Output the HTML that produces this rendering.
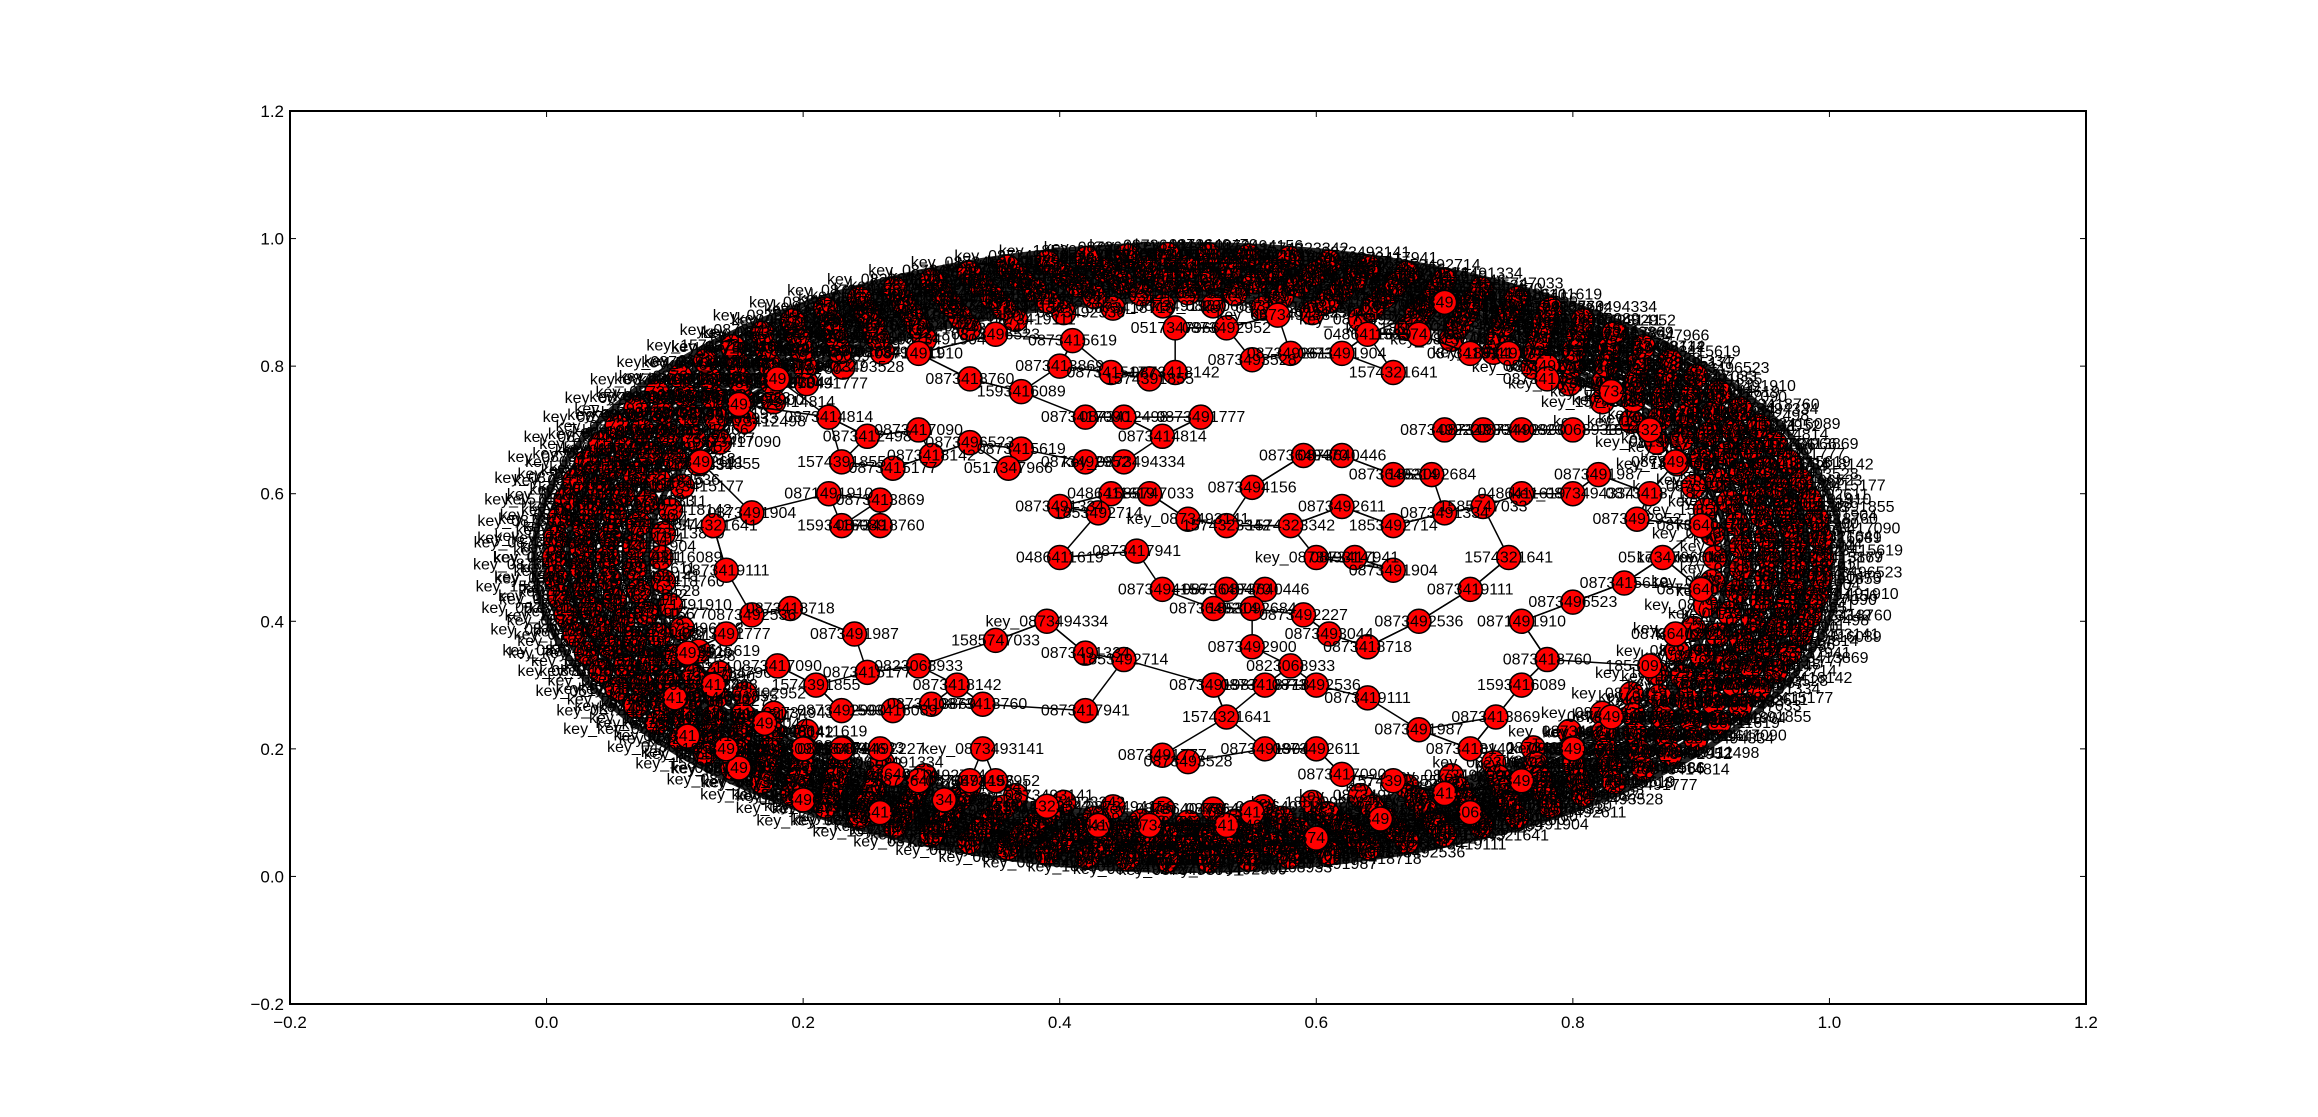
<!DOCTYPE html>
<html><head><meta charset="utf-8"><style>
body{margin:0;background:#fff}
svg{display:block;font-family:"Liberation Sans","DejaVu Sans",sans-serif}
</style></head><body>
<svg id="chart" width="2318" height="1117" viewBox="0 0 2318 1117">
<rect width="2318" height="1117" fill="#fff"/>
<g id="plot"></g>
<rect x="290" y="111" width="1796" height="893" fill="none" stroke="#000" stroke-width="2"/>
<g id="axes"></g>
</svg>
<script>
const xTicks=[-0.2,0,0.2,0.4,0.6,0.8,1.0,1.2];
const yTicks=[-0.2,0,0.2,0.4,0.6,0.8,1.0,1.2];
const nodeX=[0.39,0.40,0.35,0.42,0.45,0.42,0.34,0.39,0.33,0.29,0.23,0.27,0.2,0.26,0.17,0.23,0.29,0.24,0.19,0.16,0.14,0.13,0.16,0.12,0.15,0.18,0.22,0.25,0.29,0.23,0.27,0.3,0.26,0.23,0.26,0.22,0.33,0.37,0.36,0.42,0.45,0.44,0.47,0.4,0.43,0.46,0.5,0.53,0.48,0.53,0.56,0.52,0.55,0.59,0.61,0.55,0.58,0.52,0.56,0.6,0.64,0.53,0.56,0.6,0.5,0.48,0.55,0.53,0.62,0.66,0.7,0.72,0.74,0.76,0.78,0.76,0.8,0.84,0.87,0.85,0.8,0.76,0.73,0.7,0.66,0.63,0.6,0.58,0.55,0.59,0.62,0.66,0.69,0.7,0.73,0.76,0.8,0.82,0.86,0.78,0.72,0.66,0.62,0.58,0.55,0.51,0.48,0.45,0.42,0.47,0.44,0.49,0.4,0.37,0.33,0.29,0.35,0.41,0.49,0.53,0.57,0.64,0.68,0.7,0.75,0.78,0.83,0.86,0.88,0.9,0.9,0.88,0.86,0.83,0.8,0.76,0.72,0.68,0.64,0.68,0.72,0.75,0.66,0.62,0.11,0.14,0.1,0.13,0.18,0.21,0.25,0.32,0.3,0.27,0.34,0.15,0.2,0.26,0.31,0.35,0.47,0.43,0.6,0.65,0.14,0.11];
const nodeY=[0.40,0.50,0.37,0.35,0.34,0.26,0.20,0.11,0.15,0.15,0.20,0.16,0.2,0.2,0.24,0.26,0.33,0.38,0.42,0.41,0.48,0.55,0.57,0.65,0.74,0.78,0.72,0.69,0.70,0.65,0.64,0.66,0.59,0.55,0.55,0.6,0.68,0.67,0.64,0.65,0.65,0.60,0.60,0.58,0.57,0.51,0.56,0.55,0.45,0.45,0.45,0.42,0.42,0.41,0.38,0.36,0.33,0.3,0.3,0.3,0.28,0.25,0.2,0.2,0.18,0.19,0.1,0.08,0.16,0.15,0.13,0.2,0.25,0.3,0.34,0.4,0.43,0.46,0.5,0.56,0.6,0.6,0.58,0.57,0.55,0.5,0.5,0.55,0.61,0.66,0.66,0.63,0.63,0.70,0.70,0.7,0.7,0.63,0.6,0.8,0.82,0.79,0.82,0.82,0.81,0.72,0.69,0.72,0.72,0.78,0.79,0.79,0.8,0.76,0.78,0.82,0.85,0.84,0.86,0.86,0.88,0.85,0.85,0.9,0.82,0.78,0.76,0.7,0.65,0.55,0.45,0.38,0.33,0.25,0.2,0.15,0.1,0.23,0.36,0.4,0.45,0.5,0.48,0.58,0.35,0.38,0.28,0.3,0.33,0.3,0.32,0.3,0.27,0.26,0.27,0.17,0.12,0.1,0.12,0.15,0.08,0.08,0.06,0.09,0.2,0.22];
const nodeLabels=["key_0873494334","0486411619","1585747033","0873491334","1853492714","0873417941","key_0873493141","1574323342","0873494156","0873640470","0873640446","0873640214","1853092684","0873492227","0873493044","0873492900","0823068933","0873491987","0873418718","0873492536","0873419111","1574321641","0873491904","0873492611","0873493528","0873491777","0873414814","0873412498","0873417090","1574391855","0873415177","0873418142","0873413869","1593416089","0873418760","0871491910","0873496523","0873415619","0517347966","0873492952"];
const ringLayers=[0.79,0.83,0.87,0.91,0.95];
const labelLayers=[0.85,0.89,0.92,0.95,0.98];

const NS="http://www.w3.org/2000/svg";
const X0=290,X1=2086,Y0=1004,Y1=111;
const sx=v=>X0+(v+0.2)/1.4*(X1-X0);
const sy=v=>Y0-(v+0.2)/1.4*(Y0-Y1);
function mk(t,a,p){const e=document.createElementNS(NS,t);for(const k in a)e.setAttribute(k,a[k]);p.appendChild(e);return e;}
const plot=document.getElementById('plot'),axes=document.getElementById('axes');

const cx=sx(0.5),cy=sy(0.5);
const band=mk('g',{},plot);


for(let i=0;i<=10;i++){
  const f=0.81+0.17*i/10;
  const e=mk('ellipse',{cx:cx,cy:cy,rx:(sx(0.5+0.52*f)-cx),ry:(cy-sy(0.5+0.5*f)),fill:'none',stroke:'#000','stroke-width':6,'stroke-opacity':0.85},band);
  
  
}
const ringPts=[];
ringLayers.forEach((f,li)=>{
  const n=Math.round(66+li*8);
  for(let k=0;k<n;k++){
    const a=(k+0.5*(li%2))/n*2*Math.PI;
    ringPts.push([0.5+0.52*f*Math.cos(a),0.5+0.5*f*Math.sin(a),li]);
  }
});
const rl=mk('g',{stroke:'#000','stroke-width':1.3},band);
for(let i=0;i<ringPts.length;i++){
  for(let s of [1,3,7]){
    const j=(i+s*13)%ringPts.length;
    const dx=ringPts[i][0]-ringPts[j][0],dy=ringPts[i][1]-ringPts[j][1];
    if(dx*dx+dy*dy>0.04) continue;
    const l=mk('line',{x1:sx(ringPts[i][0]),y1:sy(ringPts[i][1]),x2:sx(ringPts[j][0]),y2:sy(ringPts[j][1])},rl);
    
    
  }
}
ringPts.forEach((p,i)=>{
  const c=mk('circle',{cx:sx(p[0]),cy:sy(p[1]),r:12,fill:'#f00',stroke:'#000','stroke-width':1.5},band);
  
  
});
ringPts.forEach((p,i)=>{
  const t=mk('text',{x:sx(p[0]),y:sy(p[1])+5,'font-size':16,'text-anchor':'middle',fill:'#000'},band);
  
  
  t.textContent='key_'+nodeLabels[i%nodeLabels.length];
});
labelLayers.forEach((f,li)=>{
  const n=90;
  for(let k=0;k<n;k++){
    const a=(k+0.33*li)/n*2*Math.PI;
    const t=mk('text',{x:sx(0.5+0.52*f*Math.cos(a)),y:sy(0.5+0.5*f*Math.sin(a))+5,'font-size':16,'text-anchor':'middle',fill:'#000'},band);
    
    
    t.textContent='key_'+nodeLabels[(k+li*7)%nodeLabels.length];
  }
});
const N=nodeX.length;
const eg=mk('g',{stroke:'#000','stroke-width':1.5},plot);


for(let i=0;i<N;i++){
  let d=[];for(let j=0;j<N;j++)if(j!=i)d.push([(nodeX[i]-nodeX[j])**2+(nodeY[i]-nodeY[j])**2,j]);
  d.sort((a,b)=>a[0]-b[0]);
  for(let m=0;m<2;m++){const j=d[m][1];const l=mk('line',{x1:sx(nodeX[i]),y1:sy(nodeY[i]),x2:sx(nodeX[j]),y2:sy(nodeY[j])},eg);
    
    }
}
for(let i=0;i<N;i++){
  const c=mk('circle',{cx:sx(nodeX[i]),cy:sy(nodeY[i]),r:12,fill:'#f00',stroke:'#000','stroke-width':1.5},plot);
  
  
}
for(let i=0;i<N;i++){
  const t=mk('text',{x:sx(nodeX[i]),y:sy(nodeY[i])+5,'font-size':16,'text-anchor':'middle',fill:'#000'},plot);
  
  
  t.textContent=nodeLabels[i%nodeLabels.length];
}
xTicks.forEach(v=>{
  const x=sx(v);
  const a=mk('line',{x1:x,x2:x,y1:Y0,y2:Y0-6,stroke:'#000'},axes);
  
  
  const b=mk('line',{x1:x,x2:x,y1:Y1,y2:Y1+6,stroke:'#000'},axes);
  
  
  const t=mk('text',{x:x,y:Y0+24,'font-size':17,'text-anchor':'middle'},axes);
  
  
  t.textContent=(v<0?'\u2212':'')+Math.abs(v).toFixed(1);
});
yTicks.forEach(v=>{
  const y=sy(v);
  const a=mk('line',{x1:X0,x2:X0+6,y1:y,y2:y,stroke:'#000'},axes);
  
  
  const b=mk('line',{x1:X1,x2:X1-6,y1:y,y2:y,stroke:'#000'},axes);
  
  
  const t=mk('text',{x:X0-6,y:y+6,'font-size':17,'text-anchor':'end'},axes);
  
  
  t.textContent=(v<0?'\u2212':'')+Math.abs(v).toFixed(1);
});
</script>
</body></html>
